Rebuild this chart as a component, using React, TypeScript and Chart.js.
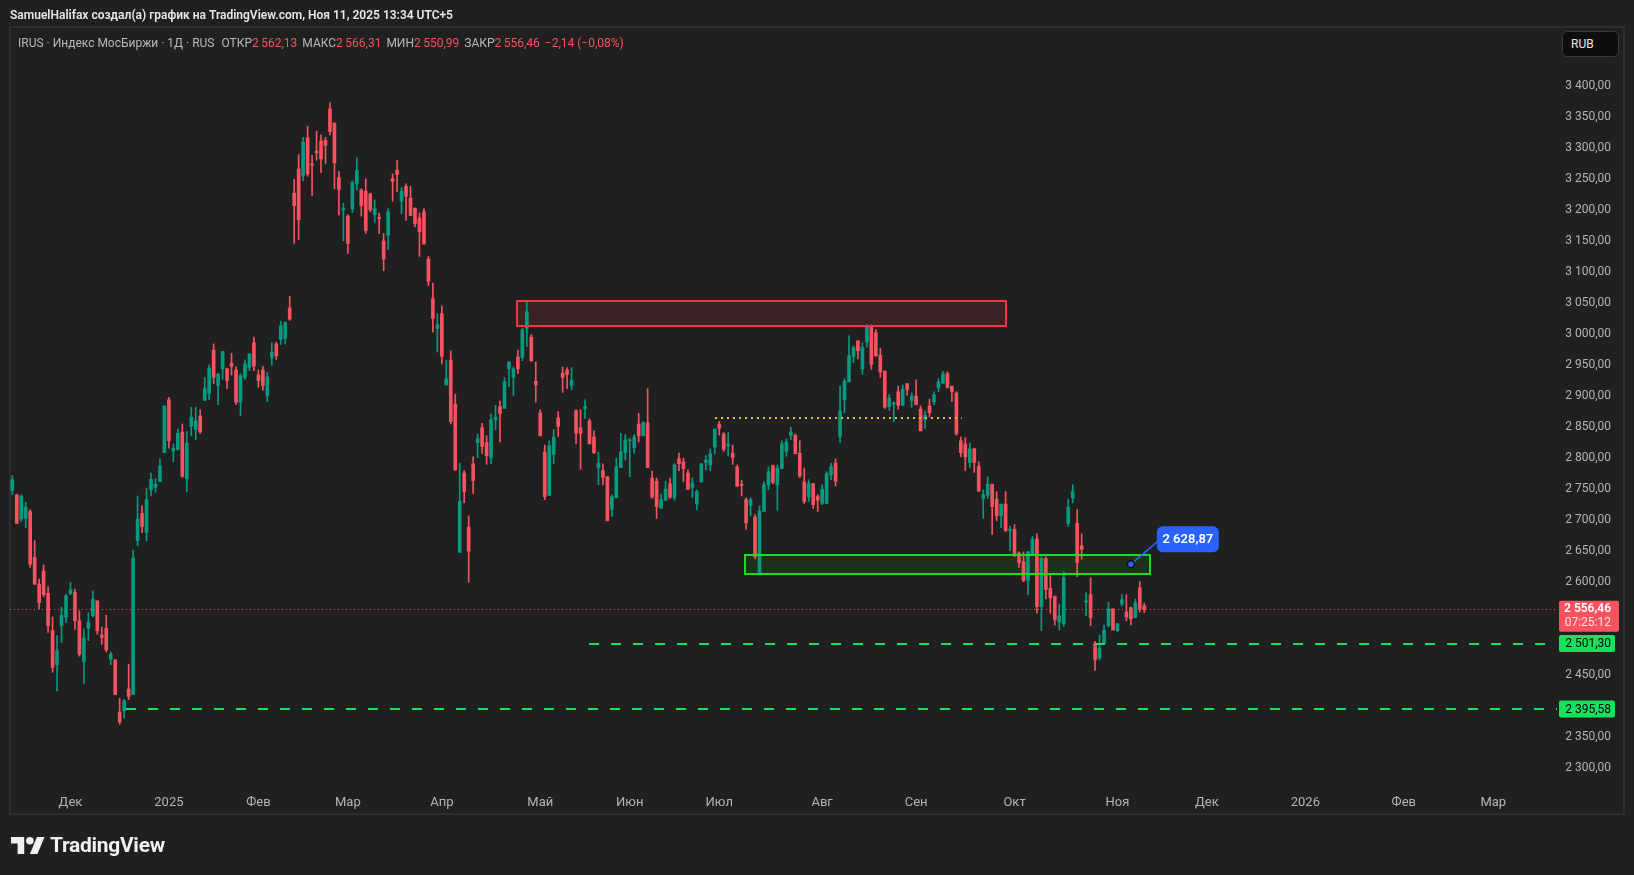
import React, { useEffect, useRef } from 'react';
import { Chart, registerables } from 'chart.js';

Chart.register(...registerables);

// ---------------- DATA ----------------
// Daily candles of IRUS (index order, mid-Nov 2024 .. 11 Nov 2025)
const OPEN = [
  2748, 2741, 2702, 2703, 2714, 2640, 2597, 2618, 2582, 2522,
  2467, 2530, 2544, 2582, 2584, 2538, 2472, 2526, 2546, 2570,
  2515, 2526, 2476, 2475, 2391, 2393, 2428, 2419, 2667, 2711,
  2680, 2749, 2753, 2762, 2809, 2894, 2812, 2814, 2842, 2767,
  2851, 2846, 2868, 2893, 2904, 2974, 2917, 2944, 2944, 2953,
  2942, 2890, 2930, 2946, 2986, 2934, 2942, 2901, 2962, 2984,
  2991, 2993, 3042, 3227, 3266, 3255, 3316, 3274, 3295, 3311,
  3312, 3363, 3340, 3252, 3200, 3190, 3202, 3242, 3232, 3230,
  3226, 3192, 3188, 3150, 3159, 3250, 3264, 3214, 3238, 3219,
  3203, 3187, 3197, 3121, 3057, 3009, 3033, 2918, 2958, 2887,
  2648, 2776, 2689, 2791, 2825, 2849, 2825, 2801, 2862, 2883,
  2880, 2944, 2930, 2963, 2962, 3009, 2995, 2924, 2873, 2810,
  2740, 2806, 2865, 2937, 2942, 2917, 2877, 2849, 2880, 2860,
  2834, 2785, 2780, 2770, 2717, 2736, 2785, 2809, 2828, 2817,
  2855, 2836, 2857, 2768, 2763, 2719, 2732, 2759, 2736, 2799,
  2794, 2776, 2753, 2726, 2762, 2793, 2789, 2818, 2855, 2839,
  2820, 2808, 2786, 2757, 2733, 2724, 2705, 2615, 2714, 2757,
  2788, 2757, 2783, 2811, 2837, 2837, 2808, 2762, 2738, 2759,
  2738, 2727, 2727, 2773, 2792, 2835, 2894, 2923, 2964, 2989,
  2944, 2987, 3013, 3002, 2966, 2940, 2883, 2887, 2907, 2885,
  2920, 2893, 2900, 2879, 2862, 2884, 2891, 2913, 2921, 2936,
  2916, 2905, 2828, 2823, 2793, 2815, 2787, 2735, 2740, 2758,
  2734, 2707, 2726, 2683, 2685, 2647, 2633, 2603, 2643, 2670,
  2561, 2638, 2590, 2577, 2536, 2533, 2695, 2736, 2695, 2659,
  2568, 2580, 2501, 2478, 2501, 2530, 2557, 2522, 2565, 2552,
  2559, 2543, 2591, 2562.13,
];
const HIGH = [
  2772, 2742, 2741, 2729, 2717, 2667, 2605, 2628, 2593, 2544,
  2514, 2560, 2581, 2600, 2589, 2554, 2525, 2551, 2586, 2570,
  2528, 2547, 2488, 2475, 2413, 2411, 2468, 2652, 2739, 2723,
  2752, 2776, 2767, 2799, 2884, 2898, 2823, 2847, 2855, 2843,
  2882, 2882, 2878, 2930, 2950, 2984, 2937, 2972, 2945, 2969,
  2947, 2936, 2958, 2969, 2995, 2942, 2948, 2938, 2986, 2987,
  3021, 3019, 3061, 3249, 3289, 3317, 3335, 3288, 3327, 3321,
  3317, 3373, 3340, 3262, 3211, 3192, 3247, 3284, 3234, 3250,
  3227, 3216, 3195, 3162, 3202, 3258, 3280, 3236, 3242, 3238,
  3203, 3195, 3202, 3125, 3082, 3033, 3045, 2958, 2973, 2903,
  2792, 2780, 2707, 2802, 2839, 2856, 2836, 2871, 2885, 2892,
  2930, 2955, 2947, 2974, 3009, 3052, 2999, 2955, 2878, 2821,
  2828, 2846, 2875, 2947, 2946, 2946, 2878, 2878, 2894, 2863,
  2844, 2810, 2791, 2770, 2741, 2800, 2840, 2838, 2832, 2838,
  2872, 2859, 2912, 2779, 2768, 2742, 2763, 2768, 2791, 2808,
  2800, 2781, 2768, 2749, 2791, 2804, 2815, 2847, 2859, 2841,
  2841, 2821, 2789, 2764, 2736, 2736, 2709, 2723, 2762, 2786,
  2789, 2789, 2828, 2831, 2850, 2839, 2828, 2784, 2765, 2759,
  2741, 2757, 2778, 2792, 2799, 2916, 2928, 2997, 2981, 2989,
  2986, 3015, 3015, 3007, 2977, 2941, 2903, 2891, 2916, 2918,
  2920, 2905, 2926, 2884, 2876, 2895, 2907, 2928, 2940, 2939,
  2916, 2907, 2834, 2833, 2824, 2816, 2794, 2749, 2770, 2758,
  2746, 2726, 2746, 2690, 2693, 2649, 2649, 2650, 2674, 2678,
  2641, 2641, 2612, 2578, 2565, 2617, 2734, 2757, 2717, 2678,
  2583, 2607, 2505, 2515, 2531, 2568, 2557, 2534, 2580, 2580,
  2560, 2573, 2601, 2566.31,
];
const LOW = [
  2741, 2695, 2698, 2688, 2624, 2596, 2557, 2577, 2519, 2455,
  2425, 2503, 2535, 2580, 2524, 2481, 2437, 2506, 2544, 2516,
  2500, 2488, 2467, 2419, 2371, 2381, 2411, 2419, 2659, 2680,
  2667, 2739, 2745, 2762, 2809, 2816, 2794, 2813, 2769, 2746,
  2836, 2830, 2840, 2893, 2894, 2920, 2886, 2927, 2912, 2934,
  2886, 2868, 2927, 2941, 2941, 2914, 2909, 2891, 2950, 2959,
  2983, 2984, 3022, 3146, 3152, 3247, 3254, 3223, 3280, 3260,
  3274, 3321, 3234, 3192, 3150, 3130, 3196, 3232, 3190, 3162,
  3197, 3180, 3162, 3102, 3136, 3214, 3229, 3194, 3183, 3191,
  3173, 3125, 3145, 3078, 3003, 2971, 2952, 2918, 2855, 2780,
  2648, 2728, 2600, 2743, 2801, 2807, 2790, 2791, 2846, 2826,
  2880, 2915, 2901, 2936, 2957, 2980, 2956, 2890, 2836, 2733,
  2740, 2791, 2835, 2906, 2912, 2910, 2823, 2782, 2864, 2823,
  2807, 2757, 2757, 2699, 2706, 2736, 2785, 2797, 2770, 2808,
  2826, 2836, 2785, 2735, 2703, 2719, 2732, 2735, 2732, 2780,
  2762, 2749, 2736, 2717, 2761, 2781, 2780, 2807, 2837, 2811,
  2803, 2790, 2754, 2739, 2685, 2707, 2638, 2614, 2714, 2749,
  2759, 2716, 2783, 2803, 2830, 2807, 2769, 2727, 2730, 2719,
  2714, 2725, 2727, 2765, 2755, 2825, 2873, 2923, 2954, 2960,
  2935, 2979, 2943, 2964, 2930, 2880, 2877, 2859, 2879, 2885,
  2901, 2882, 2886, 2844, 2848, 2866, 2886, 2907, 2920, 2913,
  2891, 2837, 2802, 2780, 2785, 2777, 2746, 2703, 2735, 2677,
  2699, 2688, 2682, 2651, 2641, 2624, 2601, 2580, 2643, 2550,
  2522, 2573, 2550, 2531, 2523, 2529, 2690, 2728, 2609, 2637,
  2546, 2530, 2458, 2475, 2501, 2528, 2523, 2520, 2562, 2538,
  2531, 2543, 2552, 2550.99,
];
const CLOSE = [
  2765, 2695, 2739, 2721, 2629, 2597, 2567, 2580, 2530, 2463,
  2490, 2547, 2578, 2588, 2538, 2484, 2510, 2536, 2573, 2522,
  2511, 2491, 2484, 2419, 2375, 2409, 2416, 2639, 2702, 2690,
  2733, 2766, 2758, 2787, 2884, 2828, 2816, 2840, 2771, 2824,
  2866, 2860, 2842, 2912, 2945, 2930, 2935, 2972, 2925, 2948,
  2890, 2933, 2952, 2968, 2948, 2925, 2917, 2931, 2971, 2965,
  3013, 3019, 3024, 3207, 3184, 3309, 3258, 3272, 3292, 3282,
  3304, 3326, 3276, 3233, 3202, 3146, 3244, 3264, 3207, 3167,
  3200, 3202, 3186, 3121, 3197, 3246, 3257, 3230, 3222, 3191,
  3178, 3165, 3145, 3085, 3025, 3015, 2964, 2928, 2859, 2781,
  2730, 2746, 2650, 2764, 2831, 2819, 2804, 2862, 2866, 2872,
  2923, 2955, 2944, 2944, 3007, 3036, 2957, 2918, 2836, 2738,
  2820, 2834, 2851, 2930, 2935, 2925, 2840, 2840, 2883, 2823,
  2809, 2792, 2769, 2699, 2738, 2786, 2810, 2829, 2829, 2834,
  2836, 2857, 2785, 2737, 2722, 2733, 2750, 2737, 2789, 2791,
  2783, 2750, 2760, 2746, 2791, 2797, 2807, 2847, 2848, 2814,
  2823, 2801, 2755, 2756, 2696, 2733, 2641, 2715, 2757, 2778,
  2761, 2784, 2823, 2826, 2842, 2807, 2771, 2730, 2759, 2725,
  2732, 2750, 2775, 2786, 2763, 2876, 2924, 2965, 2978, 2973,
  2978, 3013, 2951, 2965, 2939, 2882, 2897, 2888, 2885, 2911,
  2911, 2900, 2886, 2844, 2869, 2873, 2902, 2923, 2936, 2914,
  2907, 2839, 2809, 2802, 2815, 2793, 2747, 2741, 2758, 2722,
  2707, 2726, 2683, 2685, 2644, 2632, 2603, 2649, 2669, 2561,
  2638, 2588, 2575, 2540, 2546, 2607, 2721, 2746, 2632, 2653,
  2570, 2543, 2475, 2494, 2523, 2557, 2523, 2533, 2572, 2544,
  2541, 2567, 2557, 2556.46,
];

// x-axis month ticks (bar index of first trading day) and labels
const MONTH_TICK_IDX = [13, 35, 55, 75, 96, 118, 138, 158, 181, 202, 224, 247, 267, 289, 311, 331];
const MONTH_LABELS = ['Дек', '2025', 'Фев', 'Мар', 'Апр', 'Май', 'Июн', 'Июл', 'Авг', 'Сен', 'Окт', 'Ноя', 'Дек', '2026', 'Фев', 'Мар'];

// price-axis tick values shown
const PRICE_TICKS = [3400, 3350, 3300, 3250, 3200, 3150, 3100, 3050, 3000, 2950, 2900, 2850, 2800, 2750, 2700, 2650, 2600, 2450, 2350, 2300];

// drawings
const LAST_PRICE = 2556.46;
const LAST_TIMER = '07:25:12';
const SUPPORT_LEVELS = [2501.30, 2395.58];
const SUPPORT_FROM_IDX = [128.9, 25.4];
const RESIST_ZONE = [3054, 3013];          // top, bottom price
const RESIST_ZONE_IDX = [112.9, 222.2];    // from, to bar index
const DEMAND_ZONE = [2644, 2613.5];
const DEMAND_ZONE_IDX = [163.8, 254.2];
const DOTTED_LEVEL = 2864;
const DOTTED_LEVEL_IDX = [157.05, 212.2];
const NOTE_PRICE = 2628.87;
const NOTE_IDX = 250;

// ---------------- STYLE ----------------
const FONT = "Roboto, 'Noto Sans', 'DejaVu Sans', sans-serif";
const BG = '#202020';
const UP = '#089981';
const DOWN = '#f7525f';
const AXIS_TXT = '#b4b4b4';
const LINE_GREEN = '#12e25c';
const BOX_GREEN = '#22d822';
const BOX_RED = '#f23645';

const X_MIN = -0.514;
const X_MAX = 345.24;
const Y_MIN = 2271.7;
const Y_MAX = 3493.1;

const fmt = (v: number) => {
  const [ip, dp] = v.toFixed(2).split('.');
  return ip.replace(/\B(?=(\d{3})+(?!\d))/g, ' ') + ',' + dp;
};

const idx = OPEN.map((_, i) => i);
const candleColors = idx.map((i) => (CLOSE[i] >= OPEN[i] ? UP : DOWN));

const drawingsPlugin = {
  id: 'tvDrawings',
  beforeDatasetsDraw(chart: any) {
    const { ctx, chartArea: a } = chart;
    const x = chart.scales.x;
    const y = chart.scales.y;
    ctx.save();
    ctx.beginPath();
    ctx.rect(a.left, a.top, a.right - a.left, a.bottom - a.top);
    ctx.clip();
    const fillZone = (zone: number[], range: number[], fill: string) => {
      const x0 = x.getPixelForValue(range[0]);
      const x1 = x.getPixelForValue(range[1]);
      const y0 = y.getPixelForValue(zone[0]);
      const y1 = y.getPixelForValue(zone[1]);
      ctx.fillStyle = fill;
      ctx.fillRect(x0, y0, x1 - x0, y1 - y0);
    };
    fillZone(RESIST_ZONE, RESIST_ZONE_IDX, 'rgba(242,54,69,0.12)');
    fillZone(DEMAND_ZONE, DEMAND_ZONE_IDX, 'rgba(34,216,34,0.09)');
    const py = Math.round(y.getPixelForValue(LAST_PRICE)) + 0.5;
    ctx.strokeStyle = DOWN;
    ctx.lineWidth = 1;
    ctx.setLineDash([1, 3]);
    ctx.beginPath();
    ctx.moveTo(a.left, py);
    ctx.lineTo(a.right, py);
    ctx.stroke();
    ctx.restore();
  },
  afterDatasetsDraw(chart: any) {
    const { ctx, chartArea: a } = chart;
    const x = chart.scales.x;
    const y = chart.scales.y;
    ctx.save();
    ctx.beginPath();
    ctx.rect(a.left, a.top, a.right - a.left, a.bottom - a.top);
    ctx.clip();
    const strokeZone = (zone: number[], range: number[], color: string) => {
      const x0 = Math.round(x.getPixelForValue(range[0]));
      const x1 = Math.round(x.getPixelForValue(range[1]));
      const y0 = Math.round(y.getPixelForValue(zone[0]));
      const y1 = Math.round(y.getPixelForValue(zone[1]));
      ctx.strokeStyle = color;
      ctx.lineWidth = 2;
      ctx.setLineDash([]);
      ctx.strokeRect(x0, y0, x1 - x0, y1 - y0);
    };
    strokeZone(RESIST_ZONE, RESIST_ZONE_IDX, BOX_RED);
    strokeZone(DEMAND_ZONE, DEMAND_ZONE_IDX, BOX_GREEN);
    SUPPORT_LEVELS.forEach((lv, k) => {
      const yy = Math.round(y.getPixelForValue(lv));
      ctx.strokeStyle = LINE_GREEN;
      ctx.lineWidth = 2;
      ctx.setLineDash([10, 12]);
      ctx.beginPath();
      ctx.moveTo(x.getPixelForValue(SUPPORT_FROM_IDX[k]), yy);
      ctx.lineTo(a.right, yy);
      ctx.stroke();
    });
    const yd = Math.round(y.getPixelForValue(DOTTED_LEVEL));
    ctx.strokeStyle = '#d6cc2c';
    ctx.lineWidth = 2;
    ctx.setLineDash([2, 4]);
    ctx.beginPath();
    ctx.moveTo(x.getPixelForValue(DOTTED_LEVEL_IDX[0]), yd);
    ctx.lineTo(x.getPixelForValue(DOTTED_LEVEL_IDX[1]), yd);
    ctx.stroke();
    ctx.restore();
  },
  afterDraw(chart: any) {
    const { ctx, chartArea: a } = chart;
    const x = chart.scales.x;
    const y = chart.scales.y;
    ctx.save();
    ctx.setLineDash([]);
    const nx = x.getPixelForValue(NOTE_IDX);
    const ny = y.getPixelForValue(NOTE_PRICE);
    ctx.strokeStyle = '#2962ff';
    ctx.lineWidth = 1.5;
    ctx.beginPath();
    ctx.moveTo(nx, ny);
    ctx.lineTo(nx + 28, ny - 24);
    ctx.stroke();
    ctx.fillStyle = '#2962ff';
    ctx.beginPath();
    ctx.roundRect(nx + 26, ny - 38, 62, 26, 6);
    ctx.fill();
    ctx.fillStyle = '#ffffff';
    ctx.font = `600 13px ${FONT}`;
    ctx.textAlign = 'center';
    ctx.textBaseline = 'middle';
    ctx.fillText(fmt(NOTE_PRICE), nx + 57, ny - 24.5);
    ctx.beginPath();
    ctx.arc(nx, ny, 3.5, 0, Math.PI * 2);
    ctx.fillStyle = '#2962ff';
    ctx.fill();
    ctx.strokeStyle = '#111111';
    ctx.lineWidth = 1.5;
    ctx.stroke();

    const lx = a.right + 2;
    const textRight = 1611;
    const lp = y.getPixelForValue(LAST_PRICE);
    ctx.fillStyle = DOWN;
    ctx.beginPath();
    ctx.roundRect(lx, lp - 8.5, 60, 31, 2);
    ctx.fill();
    ctx.textAlign = 'right';
    ctx.textBaseline = 'middle';
    ctx.fillStyle = '#ffffff';
    ctx.font = `600 12px ${FONT}`;
    ctx.fillText(fmt(LAST_PRICE), textRight, lp);
    ctx.fillStyle = 'rgba(255,255,255,0.85)';
    ctx.font = `12px ${FONT}`;
    ctx.fillText(LAST_TIMER, textRight, lp + 14);

    SUPPORT_LEVELS.forEach((lv) => {
      const yy = y.getPixelForValue(lv);
      ctx.fillStyle = LINE_GREEN;
      ctx.beginPath();
      ctx.roundRect(lx, yy - 8.5, 56, 17, 2);
      ctx.fill();
      ctx.fillStyle = '#000000';
      ctx.font = `12px ${FONT}`;
      ctx.fillText(fmt(lv), textRight, yy + 0.5);
    });
    ctx.restore();
  },
};

export default function App() {
  const canvasRef = useRef<HTMLCanvasElement>(null);

  useEffect(() => {
    document.body.style.margin = '0';
    document.body.style.background = BG;
    document.body.style.overflow = 'hidden';
    const canvas = canvasRef.current!;
    const chart = new Chart(canvas, {
      type: 'bar',
      data: {
        datasets: [
          {
            label: 'body',
            data: idx.map((i) => ({ x: i, y: [OPEN[i], CLOSE[i]] })) as any,
            backgroundColor: candleColors,
            borderWidth: 0,
            barThickness: 3,
            minBarLength: 1,
            grouped: false,
          } as any,
          {
            label: 'wick',
            data: idx.map((i) => ({ x: i, y: [LOW[i], HIGH[i]] })) as any,
            backgroundColor: candleColors,
            borderWidth: 0,
            barThickness: 1,
            minBarLength: 1,
            grouped: false,
          } as any,
        ],
      },
      options: {
        responsive: false,
        animation: false,
        devicePixelRatio: 1,
        layout: { padding: { left: 10, top: 28, right: 23, bottom: 61 }, autoPadding: false } as any,
        plugins: { legend: { display: false }, tooltip: { enabled: false } },
        scales: {
          x: {
            type: 'linear',
            min: X_MIN,
            max: X_MAX,
            offset: false,
            grid: { display: false },
            border: { display: false },
            afterFit: (s: any) => {
              s.height = 28;
            },
            afterBuildTicks: (s: any) => {
              s.ticks = MONTH_TICK_IDX.map((v) => ({ value: v }));
            },
            ticks: {
              autoSkip: false,
              maxRotation: 0,
              padding: 1,
              color: AXIS_TXT,
              font: { family: FONT, size: 13 },
              callback: (_v: any, i: number) => MONTH_LABELS[i],
            },
          },
          y: {
            position: 'right',
            min: Y_MIN,
            max: Y_MAX,
            grid: { display: false },
            border: { display: false },
            afterFit: (s: any) => {
              s.width = 54;
            },
            afterBuildTicks: (s: any) => {
              s.ticks = PRICE_TICKS.map((v) => ({ value: v }));
            },
            ticks: {
              crossAlign: 'far',
              color: AXIS_TXT,
              font: { family: FONT, size: 12 },
              callback: (v: any) => fmt(Number(v)),
            },
          },
        } as any,
      },
      plugins: [drawingsPlugin],
    });
    return () => chart.destroy();
  }, []);

  const red = { color: DOWN };
  const grey = { color: '#b8b8b8' };
  const gap = 5;
  return (
    <div style={{ position: 'fixed', left: 0, top: 0, width: 1634, height: 875, background: BG, fontFamily: FONT, overflow: 'hidden' }}>
      <div style={{ position: 'absolute', left: 9, top: 26, width: 1612, height: 785, border: '2px solid #2e2e2e' }} />
      <canvas ref={canvasRef} width={1634} height={875} style={{ position: 'absolute', left: 0, top: 0, width: 1634, height: 875 }} />
      <div style={{ position: 'absolute', left: 10, top: 7, fontSize: 12, lineHeight: '16px', fontWeight: 600, color: '#e8e8e8', whiteSpace: 'nowrap' }}>
        SamuelHalifax создал(а) график на TradingView.com, Ноя 11, 2025 13:34 UTC+5
      </div>
      <div style={{ position: 'absolute', left: 18, top: 35, fontSize: 12, lineHeight: '16px', whiteSpace: 'nowrap' }}>
        <span style={grey}>IRUS · Индекс МосБиржи · 1Д · RUS</span>
        <span style={{ ...grey, marginLeft: gap + 2 }}>ОТКР</span>
        <span style={red}>2{'\u2009'}562,13</span>
        <span style={{ ...grey, marginLeft: gap }}>МАКС</span>
        <span style={red}>2{'\u2009'}566,31</span>
        <span style={{ ...grey, marginLeft: gap }}>МИН</span>
        <span style={red}>2{'\u2009'}550,99</span>
        <span style={{ ...grey, marginLeft: gap }}>ЗАКР</span>
        <span style={red}>2{'\u2009'}556,46</span>
        <span style={{ ...red, marginLeft: gap }}>−2,14 (−0,08%)</span>
      </div>
      <div style={{ position: 'absolute', left: 1562, top: 31, width: 57, height: 26, boxSizing: 'border-box', background: '#0e0e0e', border: '1px solid #3a3a3a', borderRadius: 5, color: '#e6e6e6', fontSize: 12, lineHeight: '24px', paddingLeft: 8 }}>
        RUB
      </div>
      <div style={{ position: 'absolute', left: 11, top: 835, display: 'flex', alignItems: 'center' }}>
        <svg width="34" height="17" viewBox="0 4 36 18" preserveAspectRatio="none">
          <path d="M14 22H7V11H0V4h14v18z" fill="#f0f0f0" />
          <circle cx="20" cy="8" r="4" fill="#f0f0f0" />
          <path d="M28 22h-8l7.5-18h8L28 22z" fill="#f0f0f0" />
        </svg>
        <span style={{ marginLeft: 5, fontSize: 21, fontWeight: 700, color: '#f0f0f0', lineHeight: '20px', letterSpacing: -0.3 }}>TradingView</span>
      </div>
    </div>
  );
}
